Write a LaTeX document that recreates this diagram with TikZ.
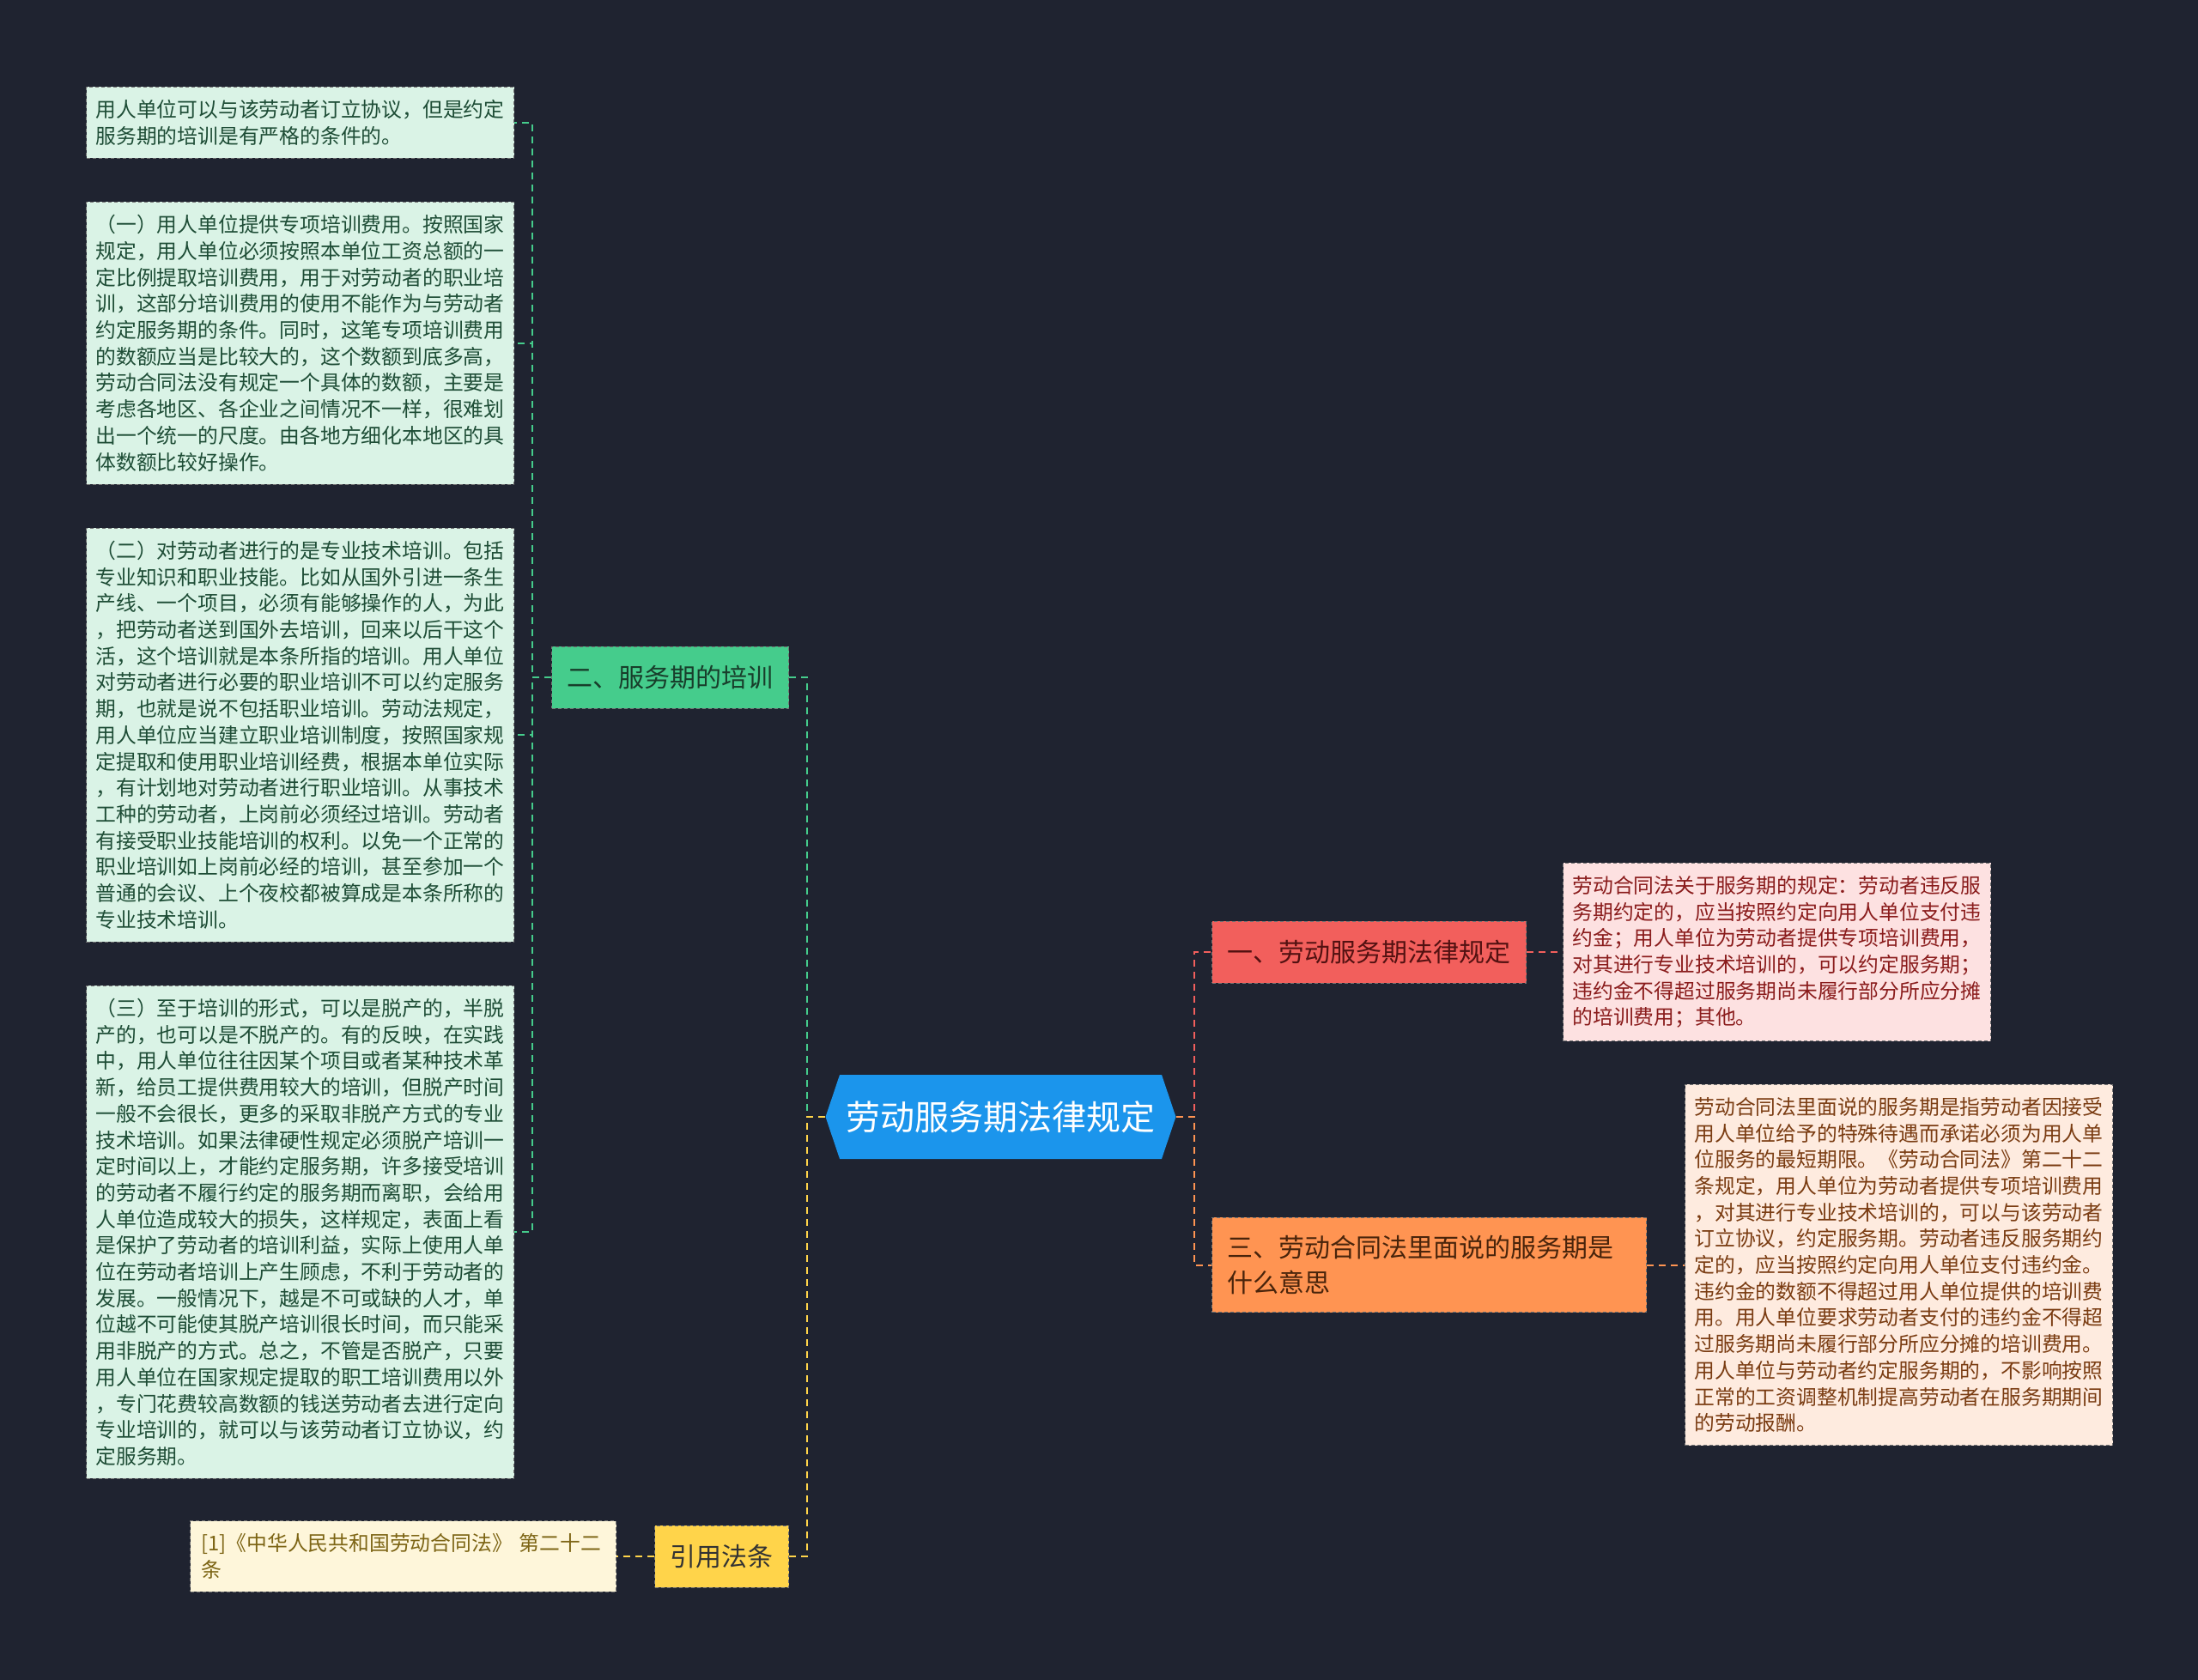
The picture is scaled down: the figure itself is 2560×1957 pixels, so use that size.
\documentclass[tikz,border=0pt]{standalone}
\usepackage{fontspec}
\setmainfont{Noto Sans CJK SC}
\usepackage{tikz}
\usetikzlibrary{positioning,calc}
\definecolor{NightBg}{HTML}{1F2330}
\definecolor{RootBlue}{HTML}{1B95EC}
\definecolor{TrainGreen}{HTML}{45CC8C}
\definecolor{MintLeaf}{HTML}{DAF3E6}
\definecolor{MintInk}{HTML}{1E4D36}
\definecolor{LawRed}{HTML}{F25F5C}
\definecolor{RoseLeaf}{HTML}{FDE1E1}
\definecolor{RoseInk}{HTML}{8A1C1C}
\definecolor{MeanOrange}{HTML}{FF9452}
\definecolor{PeachLeaf}{HTML}{FEEBDF}
\definecolor{PeachInk}{HTML}{7A3C12}
\definecolor{CiteYellow}{HTML}{FFD44A}
\definecolor{CreamLeaf}{HTML}{FEF6DA}
\definecolor{CreamInk}{HTML}{7D6515}
\newcommand{\leaffont}{\fontsize{11.9pt}{15.35pt}\selectfont}
\newcommand{\branchfont}{\fontsize{15pt}{20.5pt}\selectfont}
\newcommand{\rootfont}{\fontsize{20pt}{24pt}\selectfont}

\begin{document}
\begin{tikzpicture}[x=0.5pt,y=-0.5pt,node distance=25pt]
\tikzstyle{leaf}=[draw=black!55,dash pattern=on 2pt off 1.5pt,line width=0.5pt,text width=238pt,align=left,inner xsep=5.5pt,inner ysep=7.5pt,font=\leaffont]
\tikzstyle{branch}=[draw=black!55,dash pattern=on 2pt off 1.5pt,line width=0.5pt,minimum height=36pt,inner xsep=9pt,font=\branchfont]
\tikzstyle{link}=[line width=1pt,dash pattern=on 4pt off 3pt]
\fill[NightBg] (0,0) rectangle (2560,1957);
\useasboundingbox (0,0) rectangle (2560,1957);
% central topic
\coordinate (rc) at (1165.5,1301);
\fill[RootBlue] ($(rc)+(-187.5,-49)$) -- ($(rc)+(187.5,-49)$) -- ($(rc)+(204,0)$) -- ($(rc)+(187.5,49)$) -- ($(rc)+(-187.5,49)$) -- ($(rc)+(-204,0)$) -- cycle;
\node[font=\rootfont,text=white,minimum width=204pt,minimum height=49pt] (root) at (rc) {劳动服务期法律规定};
% main branches
\node[branch,fill=TrainGreen,text=MintInk!80!black,anchor=east] (train) at (919,789) {二、服务期的培训};
\node[branch,fill=CiteYellow,text=black!80,anchor=east] (cite) at (919,1813) {引用法条};
\node[branch,fill=LawRed,text=RoseInk!60!black,anchor=west] (law) at (1411,1109) {一、劳动服务期法律规定};
\node[branch,fill=MeanOrange,text=PeachInk!60!black,anchor=west,text width=235pt,align=left,inner ysep=10.5pt] (meaning) at (1411,1473.5) {三、劳动合同法里面说的服务期是\\什么意思};
% leaves
\node[leaf,fill=MintLeaf,text=MintInk,anchor=north east] (basis) at (599,101) {用人单位可以与该劳动者订立协议，但是约定\\服务期的培训是有严格的条件的。};
\node[leaf,fill=MintLeaf,text=MintInk,below=of basis] (fund) {（一）用人单位提供专项培训费用。按照国家\\规定，用人单位必须按照本单位工资总额的一\\定比例提取培训费用，用于对劳动者的职业培\\训，这部分培训费用的使用不能作为与劳动者\\约定服务期的条件。同时，这笔专项培训费用\\的数额应当是比较大的，这个数额到底多高，\\劳动合同法没有规定一个具体的数额，主要是\\考虑各地区、各企业之间情况不一样，很难划\\出一个统一的尺度。由各地方细化本地区的具\\体数额比较好操作。};
\node[leaf,fill=MintLeaf,text=MintInk,below=of fund] (skill) {（二）对劳动者进行的是专业技术培训。包括\\专业知识和职业技能。比如从国外引进一条生\\产线、一个项目，必须有能够操作的人，为此\\，把劳动者送到国外去培训，回来以后干这个\\活，这个培训就是本条所指的培训。用人单位\\对劳动者进行必要的职业培训不可以约定服务\\期，也就是说不包括职业培训。劳动法规定，\\用人单位应当建立职业培训制度，按照国家规\\定提取和使用职业培训经费，根据本单位实际\\，有计划地对劳动者进行职业培训。从事技术\\工种的劳动者，上岗前必须经过培训。劳动者\\有接受职业技能培训的权利。以免一个正常的\\职业培训如上岗前必经的培训，甚至参加一个\\普通的会议、上个夜校都被算成是本条所称的\\专业技术培训。};
\node[leaf,fill=MintLeaf,text=MintInk,below=of skill] (form) {（三）至于培训的形式，可以是脱产的，半脱\\产的，也可以是不脱产的。有的反映，在实践\\中，用人单位往往因某个项目或者某种技术革\\新，给员工提供费用较大的培训，但脱产时间\\一般不会很长，更多的采取非脱产方式的专业\\技术培训。如果法律硬性规定必须脱产培训一\\定时间以上，才能约定服务期，许多接受培训\\的劳动者不履行约定的服务期而离职，会给用\\人单位造成较大的损失，这样规定，表面上看\\是保护了劳动者的培训利益，实际上使用人单\\位在劳动者培训上产生顾虑，不利于劳动者的\\发展。一般情况下，越是不可或缺的人才，单\\位越不可能使其脱产培训很长时间，而只能采\\用非脱产的方式。总之，不管是否脱产，只要\\用人单位在国家规定提取的职工培训费用以外\\，专门花费较高数额的钱送劳动者去进行定向\\专业培训的，就可以与该劳动者订立协议，约\\定服务期。};
\node[leaf,fill=RoseLeaf,text=RoseInk,right=21pt of law] (lawtext) {劳动合同法关于服务期的规定：劳动者违反服\\务期约定的，应当按照约定向用人单位支付违\\约金；用人单位为劳动者提供专项培训费用，\\对其进行专业技术培训的，可以约定服务期；\\违约金不得超过服务期尚未履行部分所应分摊\\的培训费用；其他。};
\node[leaf,fill=PeachLeaf,text=PeachInk,right=22pt of meaning] (meantext) {劳动合同法里面说的服务期是指劳动者因接受\\用人单位给予的特殊待遇而承诺必须为用人单\\位服务的最短期限。《劳动合同法》第二十二\\条规定，用人单位为劳动者提供专项培训费用\\，对其进行专业技术培训的，可以与该劳动者\\订立协议，约定服务期。劳动者违反服务期约\\定的，应当按照约定向用人单位支付违约金。\\违约金的数额不得超过用人单位提供的培训费\\用。用人单位要求劳动者支付的违约金不得超\\过服务期尚未履行部分所应分摊的培训费用。\\用人单位与劳动者约定服务期的，不影响按照\\正常的工资调整机制提高劳动者在服务期期间\\的劳动报酬。};
\node[leaf,fill=CreamLeaf,text=CreamInk,inner xsep=6.5pt,text width=235pt,left=22pt of cite] (citetext) {[1]《中华人民共和国劳动合同法》 第二十二\\条};
% connectors
\draw[link,TrainGreen] (root.west) -- ++(-21,0) |- (train.east);
\draw[link,CiteYellow] (root.west) -- ++(-21,0) |- (cite.east);
\draw[link,LawRed] (root.east) -- ++(21,0) |- (law.west);
\draw[link,MeanOrange] (root.east) -- ++(21,0) |- (meaning.west);
\foreach \n in {basis,fund,skill,form}
  \draw[link,TrainGreen] (train.west) -- ++(-22,0) |- (\n.east);
\draw[link,LawRed] (law) -- (lawtext);
\draw[link,MeanOrange] (meaning) -- (meantext);
\draw[link,CiteYellow] (cite) -- (citetext);
\end{tikzpicture}
\end{document}
